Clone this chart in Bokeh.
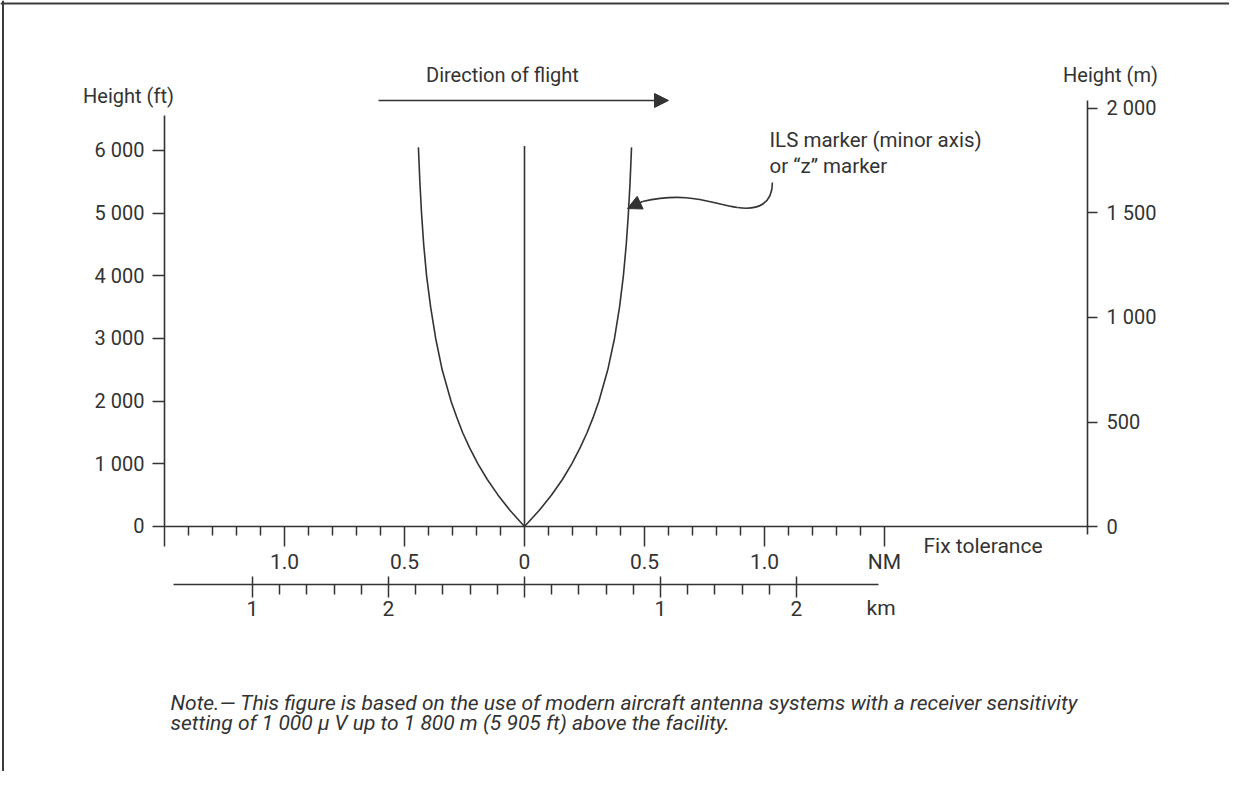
from bokeh.plotting import figure
from bokeh.models import LinearAxis, Range1d, FixedTicker, Label, Arrow, NormalHead, Span
from bokeh.embed import file_html
from bokeh.resources import INLINE

# ---------------- data ----------------
height_ft = [0, 250, 500, 750, 1000, 1250, 1500, 1750, 2000, 2500, 3000, 3500, 4000,
             4500, 5000, 5500, 6050]
left_nm = [0, -0.059, -0.110, -0.155, -0.194, -0.228, -0.258, -0.283, -0.306, -0.343,
           -0.370, -0.391, -0.408, -0.420, -0.429, -0.436, -0.442]
right_nm = [0, 0.060, 0.112, 0.158, 0.197, 0.231, 0.261, 0.287, 0.310, 0.347,
            0.375, 0.396, 0.412, 0.424, 0.433, 0.440, 0.446]
center_nm = [0, 0]
center_ft = [0, 6070]

ft_ticks = [0, 1000, 2000, 3000, 4000, 5000, 6000]
ft_labels = ["0", "1 000", "2 000", "3 000", "4 000", "5 000", "6 000"]
m_ticks = [0, 500, 1000, 1500, 2000]
m_labels = ["0", "500", "1 000", "1 500", "2 000"]
nm_ticks = [-1.5, -1.0, -0.5, 0.0, 0.5, 1.0, 1.5]
nm_labels = ["", "1.0", "0.5", "0", "0.5", "1.0", "NM"]
nm_minor = [-1.4, -1.3, -1.2, -1.1, -0.9, -0.8, -0.7, -0.6, -0.4, -0.3, -0.2, -0.1,
            0.1, 0.2, 0.3, 0.4, 0.6, 0.7, 0.8, 0.9, 1.1, 1.2, 1.3, 1.4]
km_ticks = [-2, -1, 0, 1, 2]
km_labels = ["1", "2", "", "1", "2"]
km_minor = [-1.8, -1.6, -1.4, -1.2, -0.8, -0.6, -0.4, -0.2,
            0.2, 0.4, 0.6, 0.8, 1.2, 1.4, 1.6, 1.8]

INK = "#333333"
FONT = "Roboto"

W, H = 1229, 771
p = figure(width=W, height=H, output_backend="svg", toolbar_location=None,
           x_range=Range1d(-2.1833, 2.9375), y_range=Range1d(-3909.5, 8393.4),
           x_axis_location=None, y_axis_location=None,
           min_border_left=0, min_border_right=0, min_border_top=0, min_border_bottom=0)
p.outline_line_color = None
p.background_fill_color = "white"
p.border_fill_color = "white"
for g in p.grid:
    g.visible = False

p.extra_y_ranges = {"m": Range1d(-1172.2, 2516.7)}
p.extra_x_ranges = {"km": Range1d(-3.8529, 5.1838)}

# page frame (top and left edges)
p.add_layout(Span(location=8345, dimension="width", line_color="#3c3c3c", line_width=2))
p.add_layout(Span(location=-2.1729, dimension="height", line_color="#3c3c3c", line_width=2))


def style_axis(ax, size):
    ax.axis_line_color = INK
    ax.axis_line_width = 1.6
    ax.major_tick_line_color = INK
    ax.major_tick_line_width = 1.5
    ax.minor_tick_line_color = INK
    ax.minor_tick_line_width = 1.5
    ax.major_label_text_font = FONT
    ax.major_label_text_font_size = size
    ax.major_label_text_color = INK


ax_l = LinearAxis(ticker=FixedTicker(ticks=ft_ticks, minor_ticks=[]), bounds=(0, 6558),
                  fixed_location=-1.5,
                  major_label_overrides=dict(zip(ft_ticks, ft_labels)),
                  major_tick_out=12, major_tick_in=0, minor_tick_out=0, minor_tick_in=0,
                  major_label_standoff=8)
style_axis(ax_l, "20px")
p.add_layout(ax_l, "left")

ax_r = LinearAxis(y_range_name="m", ticker=FixedTicker(ticks=m_ticks, minor_ticks=[]),
                  bounds=(-40, 2038), fixed_location=2.3458,
                  major_label_overrides=dict(zip(m_ticks, m_labels)),
                  major_tick_out=10, major_tick_in=0, minor_tick_out=0, minor_tick_in=0,
                  major_label_standoff=9)
style_axis(ax_r, "20px")
p.add_layout(ax_r, "right")

ax_nm = LinearAxis(ticker=FixedTicker(ticks=nm_ticks, minor_ticks=nm_minor),
                   bounds=(-1.5, 2.3458), fixed_location=0,
                   major_label_overrides=dict(zip(nm_ticks, nm_labels)),
                   major_tick_out=20, major_tick_in=0, minor_tick_out=9, minor_tick_in=0,
                   major_label_standoff=4)
style_axis(ax_nm, "21px")
p.add_layout(ax_nm, "below")

ax_km = LinearAxis(x_range_name="km", ticker=FixedTicker(ticks=km_ticks, minor_ticks=km_minor),
                   bounds=(-2.58, 2.6), fixed_location=-925,
                   major_label_overrides=dict(zip(km_ticks, km_labels)),
                   major_tick_out=13, major_tick_in=8, minor_tick_out=10, minor_tick_in=0,
                   major_label_standoff=4)
style_axis(ax_km, "21px")
p.add_layout(ax_km, "below")

# ---------------- marks ----------------
p.line(left_nm, height_ft, line_color=INK, line_width=1.6)
p.line(right_nm, height_ft, line_color=INK, line_width=1.6)
p.line(center_nm, center_ft, line_color=INK, line_width=1.6)

# curved pointer to the marker curve
p.bezier(x0=[1.033, 0.8875], y0=[5489, 5090], x1=[0.8875, 0.492], y1=[5090, 5186],
         cx0=[1.033, 0.783], cy0=[5154, 5138], cx1=[0.975, 0.692], cy1=[5042, 5362],
         line_color=INK, line_width=1.6)
p.add_layout(Arrow(end=NormalHead(size=14, fill_color=INK, line_color=INK),
                   x_start=0.492, y_start=5186, x_end=0.429, y_end=5074,
                   line_color=INK, line_width=1.6))

# direction of flight arrow
p.add_layout(Arrow(end=NormalHead(size=14, fill_color=INK, line_color=INK),
                   x_start=-0.608, y_start=6798, x_end=0.600, y_end=6798,
                   line_color=INK, line_width=1.6))


def lab(x, y, text, size, align="left", style="normal"):
    p.add_layout(Label(x=x, y=y, text=text, text_font=FONT, text_font_size=size,
                       text_color=INK, text_align=align, text_baseline="middle",
                       text_font_style=style))


lab(-0.092, 7197, "Direction of flight", "20px", "center")
lab(-1.65, 6862, "Height (ft)", "20px", "center")
lab(2.4417, 7197, "Height (m)", "20px", "center")
lab(1.021, 6175, "ILS marker (minor axis)", "20.5px")
lab(1.021, 5760, "or \u201cz\u201d marker", "20.5px")
lab(1.6625, -319, "Fix tolerance", "21px")
lab(1.425, -1293, "km", "21px")
lab(-1.475, -2824, "Note.\u2014 This figure is based on the use of modern aircraft antenna systems "
    "with a receiver sensitivity", "21px", style="italic")
lab(-1.475, -3128, "setting of 1 000 \u03bc V up to 1 800 m (5 905 ft) above the facility.",
    "21px", style="italic")

open("out.html", "w").write(file_html(p, INLINE))
